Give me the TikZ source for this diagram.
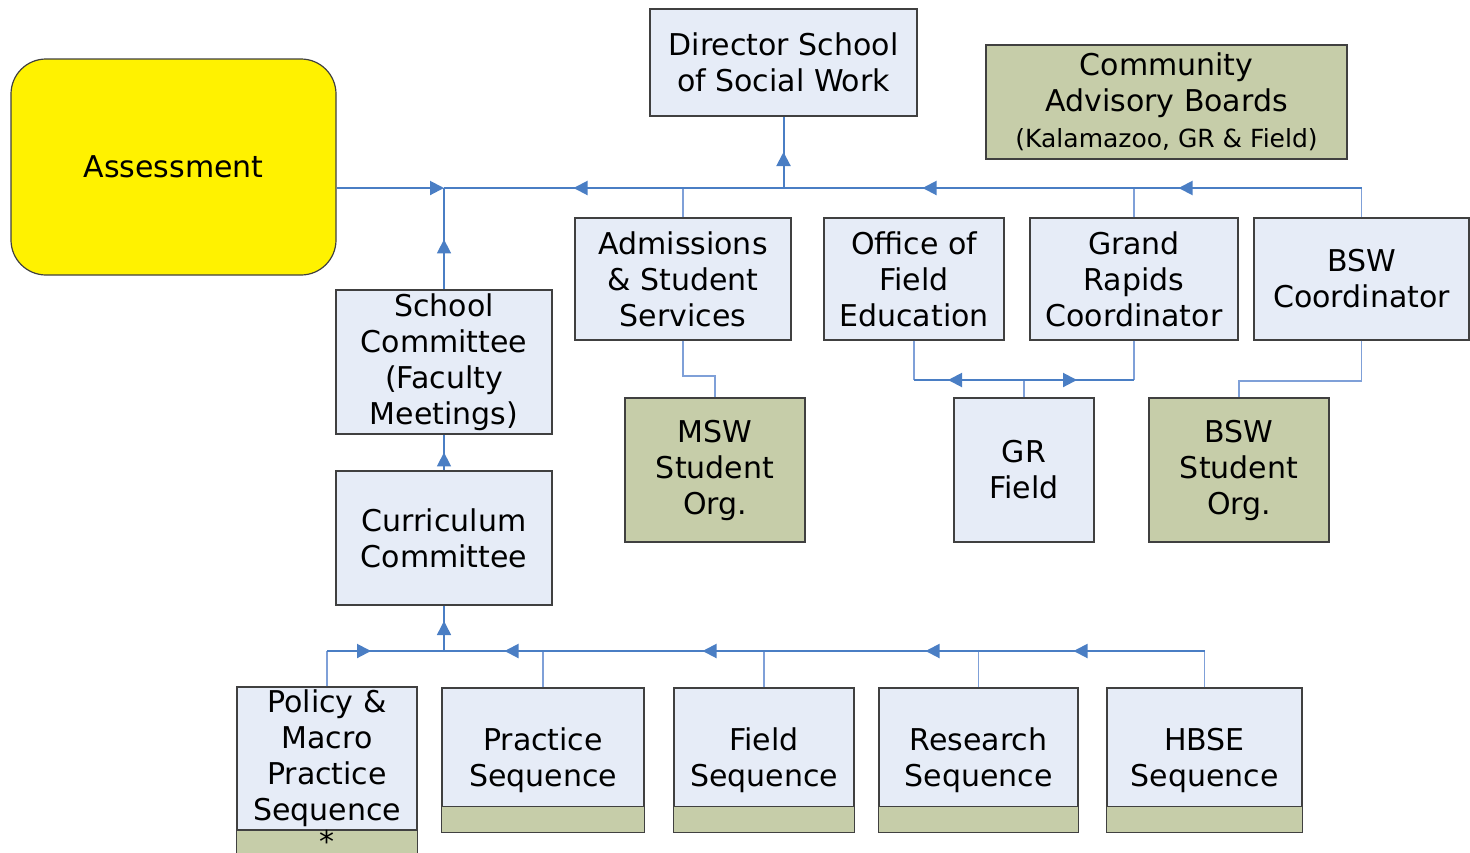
\documentclass[tikz,border=0pt]{standalone}
\usepackage{fontspec}
\setmainfont{DejaVu Sans}
\usetikzlibrary{arrows.meta,decorations.markings}

\definecolor{boxblue}{HTML}{E6ECF7}
\definecolor{boxgreen}{HTML}{C6CDA9}
\definecolor{buscol}{HTML}{4A7EC4}
\definecolor{linkcol}{HTML}{7FA0D8}

\tikzset{
  unit/.style={draw=black!75, line width=0.6pt, fill=boxblue, align=center,
    inner sep=1pt, font=\fontsize{15}{18}\selectfont},
  board/.style={unit, fill=boxgreen},
  strip/.style={draw=black!75, line width=0.6pt, fill=boxgreen},
  bus/.style={draw=buscol, color=buscol, line width=1pt},
  link/.style={draw=linkcol, line width=0.7pt},
  arrowat/.style={postaction={decorate, decoration={markings,
    mark=at position #1 with {\arrow{Triangle[length=7pt,width=7pt]}}}}},
}

\begin{document}
\begin{tikzpicture}[x=0.5pt,y=-0.5pt]
\useasboundingbox (0,0) rectangle (1470,852);

\coordinate (bus) at (0,188);
\coordinate (seqbus) at (0,651);
\coordinate (admtie) at (0,376);
\coordinate (fldtie) at (0,380);
\coordinate (bswtie) at (0,381);

\node[unit, fill=yellow, rounded corners=17.5pt, minimum width=162.5pt, minimum height=108pt] (assess) at (173.5,167) {Assessment};

\node[unit, minimum width=133.5pt, minimum height=53.5pt] (dir) at (783.5,62.5) {Director School\\of Social Work};
\node[board, minimum width=180.5pt, minimum height=57pt] (cab) at (1166.5,102) {Community\\Advisory Boards\\\fontsize{12.5}{15}\selectfont (Kalamazoo, GR \& Field)};

\node[unit, minimum width=108pt, minimum height=61pt] (adm) at (683,279) {Admissions\\\& Student\\Services};
\node[unit, minimum width=90pt, minimum height=61pt] (ofe) at (914,279) {Office of\\Field\\Education};
\node[unit, minimum width=104pt, minimum height=61pt] (grc) at (1134,279) {Grand\\Rapids\\Coordinator};
\node[unit, minimum width=107.5pt, minimum height=61pt] (bsw) at (1361.5,279) {BSW\\Coordinator};

\node[unit, minimum width=108pt, minimum height=72pt] (sc) at (444,362) {School\\Committee\\(Faculty\\Meetings)};
\node[unit, minimum width=108pt, minimum height=67pt] (cc) at (444,538) {Curriculum\\Committee};

\node[board, minimum width=90pt, minimum height=72pt] (msw) at (715,470) {MSW\\Student\\Org.};
\node[unit, minimum width=70pt, minimum height=72pt] (grf) at (1024,470) {GR\\Field};
\node[board, minimum width=90pt, minimum height=72pt] (bso) at (1239,470) {BSW\\Student\\Org.};

\node[unit, minimum width=90pt, minimum height=71.5pt] (pol) at (327,758.5) {Policy \&\\Macro\\Practice\\Sequence};
\draw[strip] (pol.south west) rectangle ([yshift=-16pt]pol.south east);
\node[font=\fontsize{15}{18}\selectfont, inner sep=0pt, anchor=north] (polstar) at ([yshift=1pt]pol.south) {\raisebox{-6.5pt}[5pt][0pt]{*}};

\node[unit, minimum width=101pt, minimum height=72pt] (prac) at (543,760) {Practice\\Sequence};
\node[unit, minimum width=90pt, minimum height=72pt] (fld) at (764,760) {Field\\Sequence};
\node[unit, minimum width=99.5pt, minimum height=72pt] (res) at (978.5,760) {Research\\Sequence};
\node[unit, minimum width=97.5pt, minimum height=72pt] (hbse) at (1204.5,760) {HBSE\\Sequence};
\draw[strip] (prac.south west) rectangle ([yshift=13pt]prac.south east);
\draw[strip] (fld.south west) rectangle ([yshift=13pt]fld.south east);
\draw[strip] (res.south west) rectangle ([yshift=13pt]res.south east);
\draw[strip] (hbse.south west) rectangle ([yshift=13pt]hbse.south east);

\draw[link] (adm.north) -- (adm.north |- bus);
\draw[link] (grc.north) -- (grc.north |- bus);
\draw[link] (bsw.north) -- (bsw.north |- bus);
\draw[bus, -{Triangle[length=7pt,width=7pt]}] (assess.east |- bus) -- (sc.north |- bus);
\draw[bus, arrowat=91.5pt, arrowat=219.5pt, arrowat=394pt] (bsw.north |- bus) -- (sc.north |- bus);
\draw[bus, arrowat=18pt] (dir.south |- bus) -- (dir.south);
\draw[bus, line width=0.8pt, arrowat=25pt] (sc.north) -- (sc.north |- bus);
\draw[bus, line width=0.8pt, arrowat=9pt] (cc.north) -- (sc.south);

\draw[link] (adm.south) -- (adm.south |- admtie) -| (msw.north);
\draw[link] (bsw.south) -- (bsw.south |- bswtie) -| (bso.north);
\draw[link] (ofe.south) -- (ofe.south |- fldtie);
\draw[link] (grc.south) -- (grc.south |- fldtie);
\draw[link] (grf.north) -- (grf.north |- fldtie);
\draw[bus, arrowat=38pt] (grf.north |- fldtie) -- (ofe.south |- fldtie);
\draw[bus, arrowat=26.5pt] (grf.north |- fldtie) -- (grc.south |- fldtie);

\draw[link] (pol.north) -- (pol.north |- seqbus);
\draw[link] (prac.north) -- (prac.north |- seqbus);
\draw[link] (fld.north) -- (fld.north |- seqbus);
\draw[link] (res.north) -- (res.north |- seqbus);
\draw[link] (hbse.north) -- (hbse.north |- seqbus);
\draw[bus, line width=0.8pt, arrowat=15pt] (cc.south |- seqbus) -- (cc.south);
\draw[bus, arrowat=22pt] (pol.north |- seqbus) -- (cc.south |- seqbus);
\draw[bus, arrowat=65.5pt, arrowat=139.5pt, arrowat=251pt, arrowat=350pt] (hbse.north |- seqbus) -- (cc.south |- seqbus);

\end{tikzpicture}
\end{document}
